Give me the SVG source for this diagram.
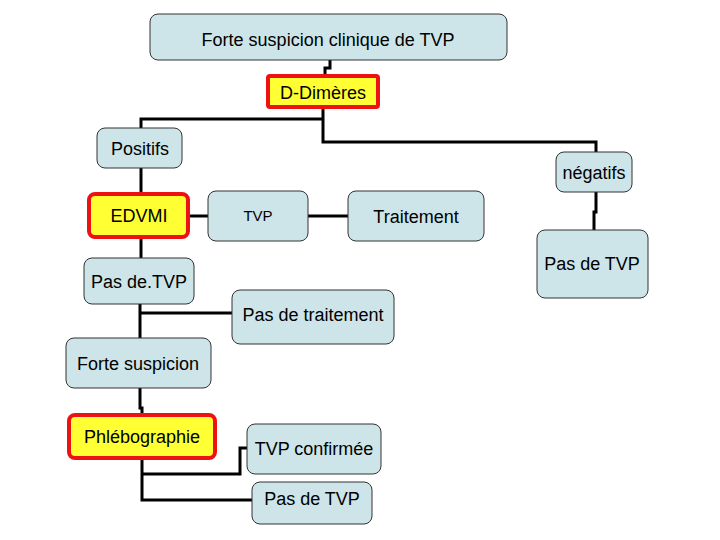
<svg xmlns="http://www.w3.org/2000/svg" width="720" height="540" viewBox="0 0 720 540">
<style>
.n{fill:#cde5e8;stroke:#333;stroke-width:1}
.h{fill:#ffff33;stroke:#ee1111;stroke-width:4}
.c{fill:none;stroke:#000;stroke-width:3}
text{font-family:"Liberation Sans",Arial,sans-serif;font-size:18px;text-anchor:middle;fill:#000}
</style>
<rect width="720" height="540" fill="#fff"/>
<g id="connectors">
<path class="c" d="M330,60V68H325V76"/>
<path class="c" d="M323,107V142H596V152"/>
<path class="c" d="M323,119H141V128"/>
<path class="c" d="M141,168V194"/>
<path class="c" d="M188,216H208"/>
<path class="c" d="M308,216H348"/>
<path class="c" d="M596,192V212H594V230"/>
<path class="c" d="M141,237V258"/>
<path class="c" d="M140,304V338M140,313H232"/>
<path class="c" d="M140,388V408H142V415"/>
<path class="c" d="M142,458V500H252M142,474H240V448H247"/>
</g>
<g id="n1"><rect class="n" x="150" y="14" width="357" height="46" rx="8"/><text x="328" y="46">Forte suspicion clinique de TVP</text></g>
<g id="n2"><rect class="h" x="268" y="76" width="110" height="31" rx="2"/><text x="323" y="99">D-Dimères</text></g>
<g id="n3"><rect class="n" x="97" y="128" width="85" height="40" rx="8"/><text x="140" y="155">Positifs</text></g>
<g id="n4"><rect class="n" x="556" y="152" width="76" height="40" rx="8"/><text x="594" y="179">négatifs</text></g>
<g id="n5"><rect class="h" x="89" y="194" width="99" height="43" rx="6"/><text x="139" y="222">EDVMI</text></g>
<g id="n6"><rect class="n" x="208" y="191" width="100" height="50" rx="8"/><text x="258" y="221" style="font-size:15px">TVP</text></g>
<g id="n7"><rect class="n" x="348" y="191" width="136" height="50" rx="8"/><text x="416" y="223">Traitement</text></g>
<g id="n8"><rect class="n" x="537" y="230" width="111" height="68" rx="8"/><text x="592" y="270">Pas de TVP</text></g>
<g id="n9"><rect class="n" x="84" y="258" width="110" height="46" rx="8"/><text x="139" y="288">Pas de.TVP</text></g>
<g id="n10"><rect class="n" x="232" y="290" width="162" height="54" rx="8"/><text x="313" y="321">Pas de traitement</text></g>
<g id="n11"><rect class="n" x="66" y="338" width="145" height="50" rx="8"/><text x="138" y="370">Forte suspicion</text></g>
<g id="n12"><rect class="h" x="69" y="415" width="146" height="43" rx="6"/><text x="142" y="443">Phlébographie</text></g>
<g id="n13"><rect class="n" x="247" y="424" width="134" height="50" rx="8"/><text x="314" y="455">TVP confirmée</text></g>
<g id="n14"><rect class="n" x="252" y="482" width="120" height="42" rx="8"/><text x="312" y="505">Pas de TVP</text></g>
</svg>
